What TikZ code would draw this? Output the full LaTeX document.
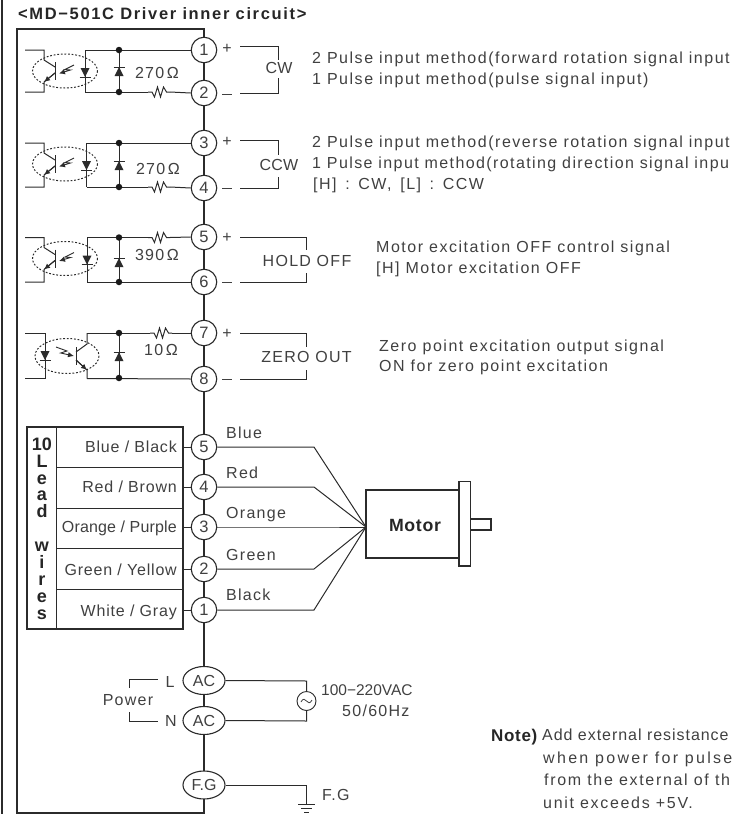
\documentclass[tikz,border=0pt]{standalone}
\usepackage{fontspec}
\setmainfont{Liberation Sans}
\newfontfamily\bodyf[LetterSpace=8]{Liberation Sans}
\newfontfamily\descf[LetterSpace=9.5]{Liberation Sans}
\newfontfamily\descg[LetterSpace=8.8]{Liberation Sans}
\newfontfamily\widef[LetterSpace=14.5]{Liberation Sans}
\newfontfamily\notef[LetterSpace=10.5]{Liberation Sans}
\newfontfamily\addf[LetterSpace=6]{Liberation Sans}
\newfontfamily\tabf[LetterSpace=5]{Liberation Sans}
\newfontfamily\tabg[LetterSpace=1]{Liberation Sans}
\newfontfamily\boldf[LetterSpace=4]{Liberation Sans Bold}
\newfontfamily\titlef[LetterSpace=10]{Liberation Sans Bold}
\usetikzlibrary{arrows.meta,calc,shapes.geometric}
\definecolor{ink}{gray}{0.17}
\definecolor{txt}{gray}{0.25}
\tikzset{
  wire/.style={draw=ink,line width=1pt},
  thin wire/.style={draw=ink,line width=0.9pt},
  term/.style={circle,draw=ink,fill=white,line width=1.1pt,minimum size=25.5pt,inner sep=0pt,font=\fontsize{16.5}{16.5}\selectfont\color{txt}},
  oval/.style={ellipse,draw=ink,fill=white,line width=1.1pt,minimum width=42pt,minimum height=28pt,inner sep=0pt,font=\fontsize{16}{16}\selectfont\color{txt}},
  lab/.style={inner sep=0pt,font=\bodyf\fontsize{16}{16}\selectfont\color{txt},text height=11.5pt,text depth=0pt},
  llab/.style={lab,anchor=west},
  rlab/.style={lab,anchor=east},
  desc/.style={llab,font=\descf\fontsize{16}{16}\selectfont\color{txt}},
  dotb/.style={circle,fill=black!90,inner sep=0pt,minimum size=6.5pt},
  blab/.style={inner sep=0pt,font=\boldf\fontsize{17.7}{17.7}\selectfont\color{black!85}},
  dashell/.style={draw=ink,line width=1pt,dash pattern=on 1.8pt off 1.8pt},
  arrowt/.style={-{Latex[length=6pt,width=5.5pt]}},
  tl/.style={rlab,font=\tabf\fontsize{16}{16}\selectfont\color{txt}},
}
% diode pointing up (bar at top): x, bar y
\newcommand{\diodeup}[2]{
  \fill[ink] (#1,#2) -- (#1-4.5,#2+9) -- (#1+4.5,#2+9) -- cycle;
  \draw[wire] (#1-5.5,#2) -- (#1+5.5,#2);
}
% diode pointing down (bar at bottom)
\newcommand{\diodedown}[2]{
  \fill[ink] (#1,#2) -- (#1-4.5,#2-9) -- (#1+4.5,#2-9) -- cycle;
  \draw[wire] (#1-5.5,#2) -- (#1+5.5,#2);
}
% resistor from x1 to x1+22 at y
\newcommand{\resist}[2]{
  \draw[wire,line join=miter] (#1,#2) -- (#1+4,#2) -- (#1+6.5,#2+5) -- (#1+9.5,#2-5) -- (#1+12.5,#2+5) -- (#1+15.5,#2-5) -- (#1+18.5,#2) -- (#1+22,#2);
}
% input opto: ytop, ybot, right-vertical x
\newcommand{\optoin}[3]{
  \draw[wire] (25,#1) -- (44,#1) -- (44,#1+10) -- (55,#1+17) (55,#1+23) -- (44,#1+32) -- (44,#2) -- (25,#2);
  \draw[wire,arrowt] (55,#1+23) -- (44,#1+32);
  \draw[wire] (55,#1+12) -- (55,#1+30);
  \draw[wire] (#3,#1) -- (#3,#2);
  \diodedown{#3}{#1+27}
  \draw[dashell] (65,#1+21) ellipse [x radius=32.5,y radius=17];
  \draw[thin wire,arrowt] (74,#1+15) -- (65,#1+19.5) -- (70.5,#1+20) -- (59,#1+23.5);
}
\begin{document}
\begin{tikzpicture}[x=1pt,y=-1pt]
\useasboundingbox (0,0) rectangle (731,814);
\draw[ink,line width=1.8pt] (1.8,0) -- (1.8,814);
\draw[wire,line width=1.2pt] (17,813) -- (17,29) -- (204,29) -- (204,813) -- cycle;
\node[anchor=west,inner sep=0pt,font=\titlef\fontsize{16.5}{16.5}\selectfont\color{black!85},text height=11.5pt,text depth=0pt] (title) at (18,13.5) {<MD−501C Driver inner circuit>};

% terminals
\foreach \n/\l/\y in {a/1/50,b/2/93,c/3/143,d/4/188,e/5/237,f/6/282,g/7/333,h/8/379}
  \node[term] (t\n) at (204,\y) {\l};
\foreach \n/\l/\y in {m/5/447,n/4/487,o/3/527,p/2/569,q/1/610}
  \node[term] (l\n) at (204,\y) {\l};
\node[oval] (acl) at (204,680.5) {AC};
\node[oval] (acn) at (204,720.5) {AC};
\node[oval] (fg) at (204,785) {F.G};

% input circuits
\coordinate (d1t) at (119,50); \coordinate (d1b) at (119,92);
\coordinate (d2t) at (119,143); \coordinate (d2b) at (119,187);
\coordinate (d3t) at (119,237.5); \coordinate (d3b) at (119,282);
\coordinate (d4t) at (119,333); \coordinate (d4b) at (119,378);
\draw[wire] (85,50) -- (ta.west); \draw[wire] (85,92) -- (148,92); \draw[wire] (170,92) -- (tb.west);
\resist{148}{92}
\draw[wire] (d1t) -- (d1b);
\diodeup{119}{67}
\optoin{50}{92}{85}
\node[dotb] at (d1t) {}; \node[dotb] at (d1b) {};

\draw[wire] (86.5,143) -- (tc.west); \draw[wire] (86.5,187) -- (148,187); \draw[wire] (170,187) -- (td.west);
\resist{148}{187}
\draw[wire] (d2t) -- (d2b);
\diodeup{119}{161}
\optoin{143}{187}{86.5}
\node[dotb] at (d2t) {}; \node[dotb] at (d2b) {};

\draw[wire] (87,237.5) -- (148,237.5); \draw[wire] (170,237.5) -- (te.west); \draw[wire] (87,282) -- (tf.west);
\resist{148}{237.5}
\draw[wire] (d3t) -- (d3b);
\diodeup{119}{258}
\optoin{237.5}{282}{87}
\node[dotb] at (d3t) {}; \node[dotb] at (d3b) {};

\draw[wire] (87,333) -- (150,333); \draw[wire] (172,333) -- (tg.west); \draw[wire] (87,378.5) -- (th.west);
\resist{150}{333}
\draw[wire] (d4t) -- (d4b);
\diodeup{119}{352}
\node[dotb] at (d4t) {}; \node[dotb] at (d4b) {};
% output opto
\draw[wire] (25,333) -- (45,333) -- (45,378) -- (25,378);
\diodedown{45}{360}
\draw[wire] (87,333) -- (87,344) -- (76,352) (76,360) -- (87,370) -- (87,378.5);
\draw[wire,arrowt] (76,360) -- (87,370);
\draw[wire] (76,347) -- (76,365);
\draw[dashell] (67,356) ellipse [x radius=32,y radius=17.5];
\draw[thin wire,arrowt] (56,347) -- (67,351) -- (60.7,353) -- (74,356);

\node[lab] at (157,73) {270\,Ω};
\node[lab] at (158,169) {270\,Ω};
\node[lab] at (157,254.5) {390\,Ω};
\node[lab] at (161,350) {10\,Ω};

% +/-
\foreach \y in {48,141,237,333} \node[lab] at (227,\y) {+};
\foreach \y in {94,188,282,379} \draw[draw=txt,line width=0.9pt] (222,\y) -- (232,\y);

% signal brackets
\node[lab,font=\tabg\fontsize{16}{16}\selectfont\color{txt}] (cw) at (279,68) {CW};
\node[lab,font=\tabg\fontsize{16}{16}\selectfont\color{txt}] (ccw) at (279,164.5) {CCW};
\node[lab] (hold) at (307,261) {HOLD OFF};
\node[lab] (zero) at (306.5,357) {ZERO OUT};
\draw[wire] (240,46) -- (278,46) -- (278,60);
\draw[wire] (278,78) -- (278,93) -- (240,93);
\draw[wire] (240,140) -- (278,140) -- (278,155);
\draw[wire] (278,177) -- (278,188) -- (240,188);
\draw[wire] (240,237.5) -- (306.5,237.5) -- (306.5,250);
\draw[wire] (306.5,273) -- (306.5,282) -- (240,282);
\draw[wire] (240,333) -- (306,333) -- (306,347);
\draw[wire] (306,370) -- (306,379) -- (240,379);

% descriptions
\node[desc] at (312,57.5) {2 Pulse input method(forward rotation signal input};
\node[desc] at (312,78.5) {1 Pulse input method(pulse signal input)};
\node[desc] at (312,142) {2 Pulse input method(reverse rotation signal input};
\node[desc,font=\descg\fontsize{16}{16}\selectfont\color{txt}] at (312,163) {1 Pulse input method(rotating direction signal inpu};
\node[desc] at (313,184) {[H]\, :\, CW,\, [L]\, :\, CCW};
\node[desc] at (376,247) {Motor excitation OFF control signal};
\node[desc] at (376,268) {[H] Motor excitation OFF};
\node[desc] at (379,346) {Zero point excitation output signal};
\node[desc] at (379,366) {ON for zero point excitation};

% lead table
\draw[wire,line width=1.2pt] (27,427) rectangle (183,629);
\draw[wire] (56,427) -- (56,629);
\foreach \y in {467,508,548,589} \draw[wire] (56,\y) -- (183,\y);
\node[tl] at (177,447) {Blue / Black};
\node[tl] at (177,487) {Red / Brown};
\node[tl,font=\tabg\fontsize{16}{16}\selectfont\color{txt}] at (177,527) {Orange / Purple};
\node[tl] at (177,570) {Green / Yellow};
\node[tl] at (177,611) {White / Gray};
\foreach \n/\y in {m/447,n/487,o/527,p/569,q/610}
  \draw[wire] (183,\y) -- (l\n.west);
\node[inner sep=0pt,align=center,font=\bfseries\fontsize{18}{16.9}\selectfont\color{black!85}] (leads) at (42,528.5) {10\\L\\e\\a\\d\\[16.9pt]w\\i\\r\\e\\s};

% motor
\coordinate (hub) at (366,527);
\foreach \n/\y in {m/447,n/487,o/527,p/569,q/610}
  \draw[wire] (l\n.east) -- (314,\y) -- (hub);
\node[llab] at (226,433) {Blue};
\node[llab] at (226,473) {Red};
\node[llab] at (226,513) {Orange};
\node[llab] at (226,555) {Green};
\node[llab] at (226,595) {Black};
\draw[wire,line width=1.2pt] (366,490) rectangle (459,558);
\draw[wire,line width=1.2pt] (459,481.5) rectangle (470.5,566);
\draw[wire,line width=1.2pt] (470.5,519) rectangle (491,530);
\node[blab] (motor) at (415,525) {Motor};

% power
\node[lab] (pw) at (128,700) {Power};
\draw[wire] (158,679) -- (129,679) -- (129,688);
\draw[wire] (129,712) -- (129,721) -- (158,721);
\node[lab] at (170,682) {L};
\node[lab] at (171,721) {N};
\node[circle,draw=ink,line width=0.9pt,fill=white,minimum size=19pt,inner sep=0pt] (src) at (306.5,701) {};
\draw[draw=txt,line width=0.8pt] (301,702) .. controls (303,698) and (305,699) .. (306.5,701) .. controls (308,703) and (310,704) .. (312,700);
\draw[wire] (acl.east) -- (306.5,681) -- (src.north);
\draw[wire] (acn.east) -- (306.5,721) -- (src.south);
\node[llab,font=\fontsize{15.5}{15.5}\selectfont\color{txt}] at (321,690) {100−220VAC};
\node[llab] at (342,711) {50/60Hz};

% ground
\coordinate (gnd) at (306.5,804);
\draw[wire] (fg.east) -- (306.5,785) -- (gnd);
\draw[wire] (298,804) -- (315,804);
\draw[wire] (301,808) -- (312,808);
\draw[wire] (304,812) -- (309,812);
\node[llab] at (322,795) {F.G};

% note
\node[anchor=west,inner sep=0pt,font=\boldf\fontsize{17}{17}\selectfont\color{black!85},text height=12pt,text depth=0pt] at (491,735) {Note)};
\node[llab,font=\addf\fontsize{16}{16}\selectfont\color{txt}] at (542,735) {Add external resistance};
\node[llab,font=\widef\fontsize{16}{16}\selectfont\color{txt}] at (543,758) {when power for pulse};
\node[llab,font=\notef\fontsize{16}{16}\selectfont\color{txt}] at (544,780) {from the external of th};
\node[llab,font=\notef\fontsize{16}{16}\selectfont\color{txt}] at (543,803) {unit exceeds +5V.};
\end{tikzpicture}
\end{document}
